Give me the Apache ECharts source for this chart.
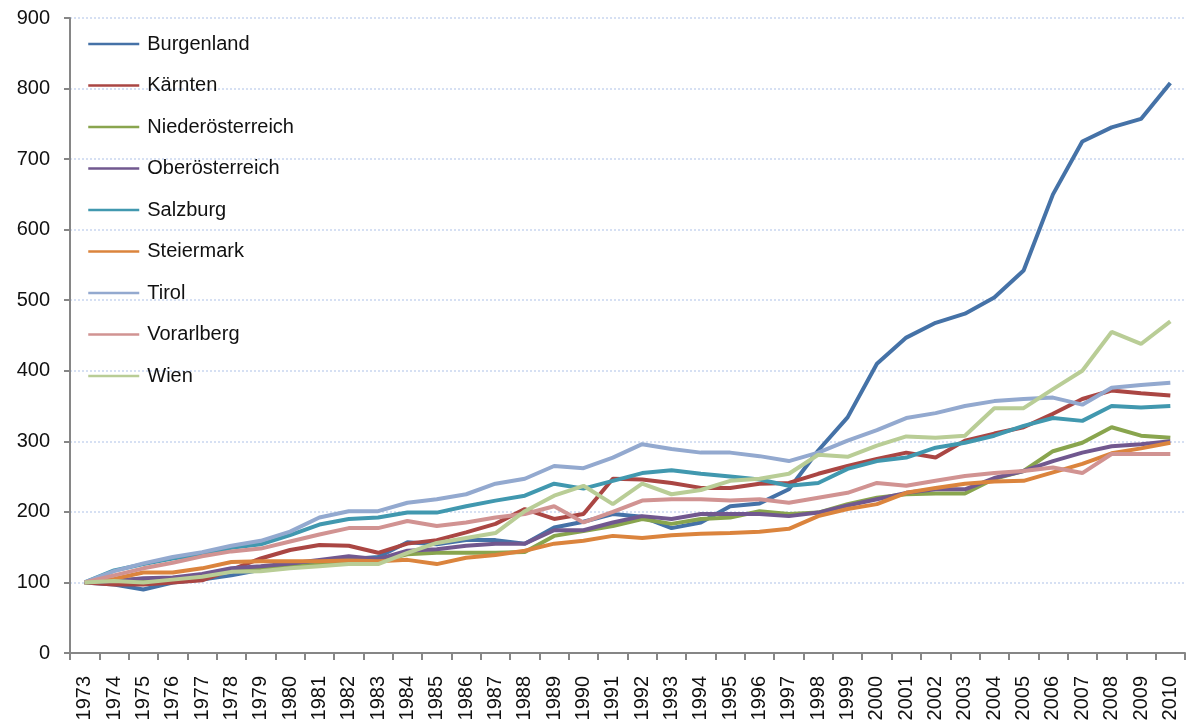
<!DOCTYPE html>
<html>
<head>
<meta charset="utf-8">
<script src="https://cdn.jsdelivr.net/npm/echarts@6/dist/echarts.min.js"></script>
<style>html,body{margin:0;padding:0;background:#fff}#c{width:1187px;height:724px}</style>
</head>
<body>
<div id="c"></div>
<script>
const years = ['1973','1974','1975','1976','1977','1978','1979','1980','1981','1982','1983','1984','1985','1986','1987','1988','1989','1990','1991','1992','1993','1994','1995','1996','1997','1998','1999','2000','2001','2002','2003','2004','2005','2006','2007','2008','2009','2010'];
const yTicks = [0,100,200,300,400,500,600,700,800,900];
const seriesNames = ['Burgenland','Kärnten','Niederösterreich','Oberösterreich','Salzburg','Steiermark','Tirol','Vorarlberg','Wien'];
const seriesColors = ['#4572A7','#AA4643','#89A54E','#71588F','#4198AF','#DB843D','#93A9CF','#D19392','#B9CD96'];

const burgenland = [100,97,90,100,104,110,118,125,130,133,136,157,154,160,160,155,178,186,197,193,177,185,208,212,232,287,334,410,447,468,481,504,542,650,725,745,757,808];
const kaernten = [100,97,97,100,103,118,134,146,153,152,142,155,160,171,183,204,190,197,247,246,241,234,234,240,241,254,265,275,284,277,301,311,320,339,360,372,368,365];
const niederoesterreich = [100,103,105,105,110,118,118,122,125,128,130,140,142,142,142,143,166,173,180,190,183,190,192,201,197,199,211,220,225,226,226,247,258,286,298,320,308,305];
const oberoesterreich = [100,102,106,107,112,120,123,127,132,137,133,145,147,152,155,155,174,174,185,194,190,197,197,197,194,199,209,218,227,232,232,248,258,272,284,293,296,300];
const salzburg = [100,117,126,134,140,149,154,167,182,190,192,199,199,208,216,223,240,233,244,255,259,254,250,246,237,241,261,272,277,291,298,308,322,333,329,350,348,350];
const steiermark = [100,105,114,114,120,129,130,130,130,131,130,132,126,135,139,145,155,159,166,163,167,169,170,172,176,194,204,211,227,234,240,243,244,256,268,283,290,298];
const tirol = [100,116,127,136,143,152,159,172,192,201,201,213,218,225,240,247,265,262,277,296,289,284,284,279,272,284,301,316,333,340,350,357,360,362,352,376,380,383];
const vorarlberg = [100,110,120,128,137,144,148,158,168,177,177,187,180,185,192,197,208,185,200,216,218,218,216,218,213,220,227,241,237,244,251,255,258,263,255,282,282,282];
const wien = [100,102,100,104,108,115,116,120,123,126,126,142,156,163,170,201,223,237,211,240,225,231,244,247,254,281,278,294,307,305,308,347,347,374,400,455,438,470];

const allData = [burgenland,kaernten,niederoesterreich,oberoesterreich,salzburg,steiermark,tirol,vorarlberg,wien];
const FONT = '"Liberation Sans", Arial, sans-serif';

const chart = echarts.init(document.getElementById('c'), null, {renderer:'canvas'});
chart.setOption({
  animation: false,
  backgroundColor: '#fff',
  grid: {left: 70, right: 2, top: 18, bottom: 71, containLabel: false},
  legend: {
    orient: 'vertical',
    left: 87, top: 34,
    padding: 0,
    itemWidth: 51, itemHeight: 14,
    itemGap: 21.5,
    data: seriesNames,
    textStyle: {fontFamily: FONT, fontSize: 20, color: '#111', padding: [0,0,0,3]},
    itemStyle: {opacity: 0},
    lineStyle: {width: 2.5}
  },
  xAxis: {
    type: 'category',
    data: years,
    boundaryGap: true,
    axisLine: {lineStyle: {color: '#868686', width: 2}},
    axisTick: {show: true, alignWithLabel: false, length: 7, lineStyle: {color: '#868686', width: 2}},
    axisLabel: {interval: 0, rotate: 90, margin: 23, fontFamily: FONT, fontSize: 20, color: '#111'},
    splitLine: {show: false}
  },
  yAxis: {
    type: 'value',
    min: yTicks[0], max: yTicks[yTicks.length-1], interval: 100,
    axisLine: {show: true, lineStyle: {color: '#868686', width: 2}},
    axisTick: {show: true, length: 6, lineStyle: {color: '#868686', width: 2}},
    axisLabel: {margin: 20, fontFamily: FONT, fontSize: 20, color: '#111'},
    splitLine: {show: true, lineStyle: {color: '#c9d6ef', type: [2,2], width: 1.5}}
  },
  series: seriesNames.map((n,i) => ({
    name: n, type: 'line', data: allData[i],
    symbol: 'none', smooth: false,
    lineStyle: {width: 4, color: seriesColors[i]},
    itemStyle: {color: seriesColors[i]},
    emphasis: {disabled: true}
  }))
});
</script>
</body>
</html>
